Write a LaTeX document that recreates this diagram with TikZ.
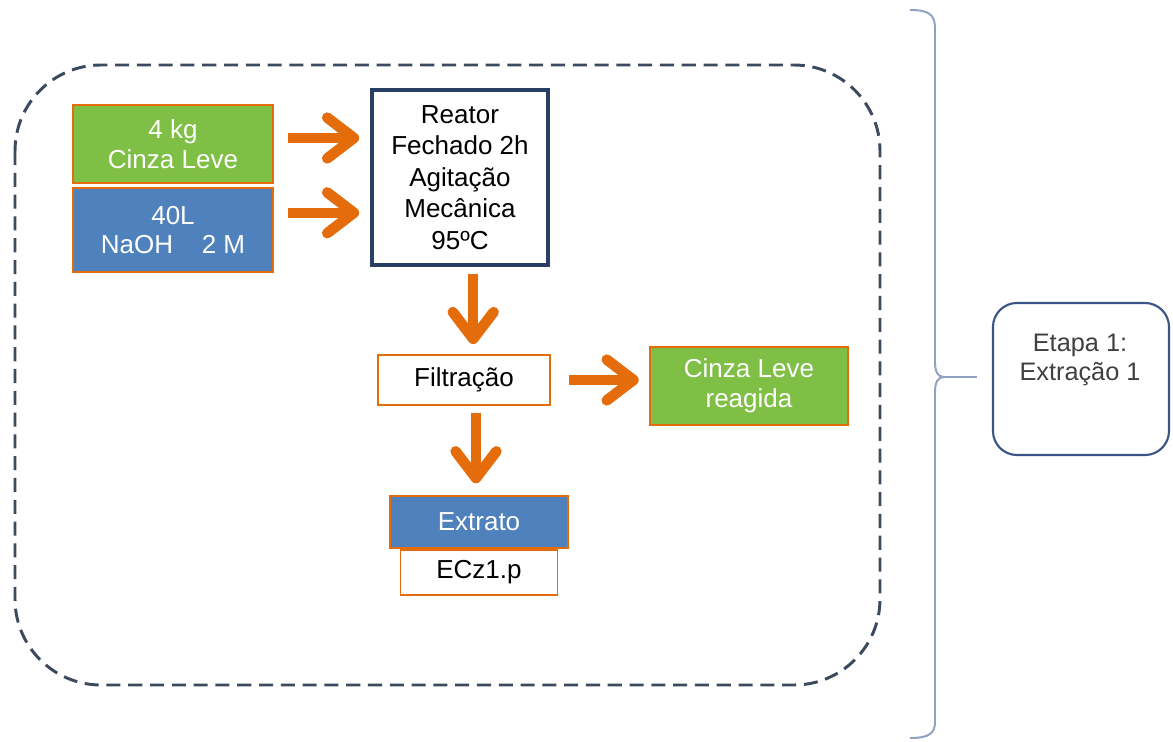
\documentclass[tikz,border=0pt]{standalone}
\usepackage{fontspec}
\setmainfont{Liberation Sans}
\usetikzlibrary{positioning,arrows.meta}

\definecolor{laranja}{HTML}{E46C0A}
\definecolor{verde}{HTML}{7FBF45}
\definecolor{azul}{HTML}{4F81BD}
\definecolor{marinho}{HTML}{263F63}
\definecolor{tracejado}{HTML}{3B4A5E}
\definecolor{chave}{HTML}{8FA2C2}
\definecolor{bordaetapa}{HTML}{3A5585}
\definecolor{cinzatexto}{HTML}{404040}

\begin{document}
\begin{tikzpicture}[x=0.025cm,y=-0.025cm]
		\tikzstyle{caixa}=[rectangle,inner sep=0pt,align=center,font=\fontsize{18.5}{21}\selectfont]
		\tikzstyle{entrada verde}=[caixa,fill=verde,draw=laranja,line width=2pt,text=white]
		\tikzstyle{entrada azul}=[caixa,fill=azul,draw=laranja,line width=2pt,text=white]
		\tikzstyle{processo}=[caixa,fill=white,draw=marinho,line width=2.2pt,font=\fontsize{18.5}{22.5}\selectfont]
		\tikzstyle{operacao}=[caixa,fill=white,draw=laranja,line width=1.5pt]
		\tikzstyle{rotulo}=[caixa,fill=white,draw=laranja,line width=0.8pt]
		\tikzstyle{etapa}=[rectangle,draw=bordaetapa,line width=1.5pt,rounded corners=0.6cm]
		\tikzstyle{seta}=[draw=laranja,line width=7.5pt,-{Straight Barb[round,length=19pt,width=29pt]}]
		\tikzstyle{chave}=[draw=chave,line width=1.4pt]
		
		\useasboundingbox (0,0) rectangle (1173,742);
		
		% Region of the extraction
		\draw[tracejado,line width=2.1pt,dash pattern=on 10pt off 5.5pt,rounded corners=2.15cm]
			(15,65) rectangle (880,685);
		
		% Inputs
		\node[entrada verde,minimum width=5cm,minimum height=1.95cm] (cinza) at (173,144) {4 kg\\Cinza Leve};
		\node[entrada azul,minimum width=5cm,minimum height=2.1cm] (naoh) at (173,230) {40L\\NaOH\hspace{1.1em}2 M};
		
		% Reactor and filtration
		\node[processo,minimum width=4.4cm,minimum height=4.375cm] (reator) at (460,177.5)
			{Reator\\Fechado 2h\\Agitação\\Mecânica\\95ºC};
		\node[operacao,minimum width=4.3cm,minimum height=1.25cm] (filtro) at (464,380) {Filtração};
		\node[entrada verde,minimum width=4.95cm,minimum height=1.95cm] (reagida) at (749,386) {Cinza Leve\\reagida};
		
		% Product
		\node[entrada azul,minimum width=4.45cm,minimum height=1.3cm] (extrato) at (479,522) {Extrato};
		\node[rotulo,minimum width=3.925cm,minimum height=1.125cm,below=0pt of extrato] (ecz) {ECz1.p};
		
		% Arrows
		\draw[seta,shorten <=10pt,shorten >=8pt] ([yshift=0.15cm]cinza.east) -- ([yshift=0.15cm]cinza.east -| reator.west);
		\draw[seta,shorten <=10pt,shorten >=8pt] ([yshift=0.43cm]naoh.east) -- ([yshift=0.43cm]naoh.east -| reator.west);
		\draw[seta,shorten <=5pt,shorten >=7pt] ([xshift=0.33cm]reator.south) -- ([xshift=0.33cm]reator.south |- filtro.north);
		\draw[seta,shorten <=13pt,shorten >=7pt] (filtro.east) -- (filtro.east -| reagida.west);
		\draw[seta,shorten <=5pt,shorten >=8pt] ([xshift=0.3cm]filtro.south) -- ([xshift=0.3cm]filtro.south |- extrato.north);
		
		% Brace and stage
		\draw[chave] (910,10) .. controls (928,10) and (935,14) .. (935,28) -- (935,362)
			.. controls (935,372) and (938,377) .. (944,377)
			.. controls (938,377) and (935,382) .. (935,392) -- (935,722)
			.. controls (935,734) and (928,738) .. (910,738);
		\coordinate (ponta) at (944,377);
		\node[etapa,minimum width=4.4cm,minimum height=3.8cm] (etapa) at (1081,379) {};
		\draw[chave] (ponta) -- ++(33,0);
		\node[caixa,text=cinzatexto,font=\fontsize{18}{21}\selectfont] (nome etapa) at (1080,360) {Etapa 1:\\Extração 1};
	\end{tikzpicture}
\end{document}
